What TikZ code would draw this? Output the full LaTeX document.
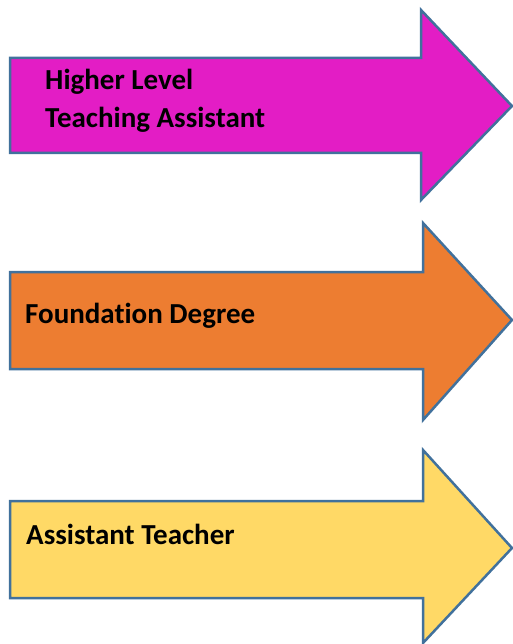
\documentclass[tikz,border=0pt]{standalone}
\usepackage{fontspec}
\setmainfont{Carlito}[Ligatures=CommonOff]
\definecolor{hlmag}{HTML}{E31DC5}
\definecolor{fdorange}{HTML}{ED7D31}
\definecolor{atyellow}{HTML}{FFD966}
\definecolor{edgeblue}{HTML}{41719C}
\tikzset{
  bigarrow/.style={draw=edgeblue, line width=2.5pt, line join=miter},
  label/.style={anchor=base west, inner sep=0pt, font=\fontsize{29}{38}\selectfont\bfseries, text=black}
}
\begin{document}
\begin{tikzpicture}[x=1pt,y=-1pt]
\useasboundingbox (0,0) rectangle (513,644);
\fill[white] (0,0) rectangle (513,644);
\path[bigarrow, fill=hlmag] (10,58) -- (421,58) -- (421,10) -- (512,106) -- (421,200) -- (421,153) -- (10,153) -- cycle;
\path[bigarrow, fill=fdorange] (10,272) -- (423,272) -- (423,223) -- (512,320) -- (423,420) -- (423,369) -- (10,369) -- cycle;
\path[bigarrow, fill=atyellow] (10,501) -- (423,501) -- (423,450) -- (512,548) -- (423,643) -- (423,598) -- (10,598) -- cycle;
\node[label] (hl1) at (45,90) {Higher Level};
\node[label] (hl2) at (45,128) {Teaching Assistant};
\node[label] (fd) at (25,323) {Foundation Degree};
\node[label] (at) at (26,544) {Assistant Teacher};
\end{tikzpicture}
\end{document}
